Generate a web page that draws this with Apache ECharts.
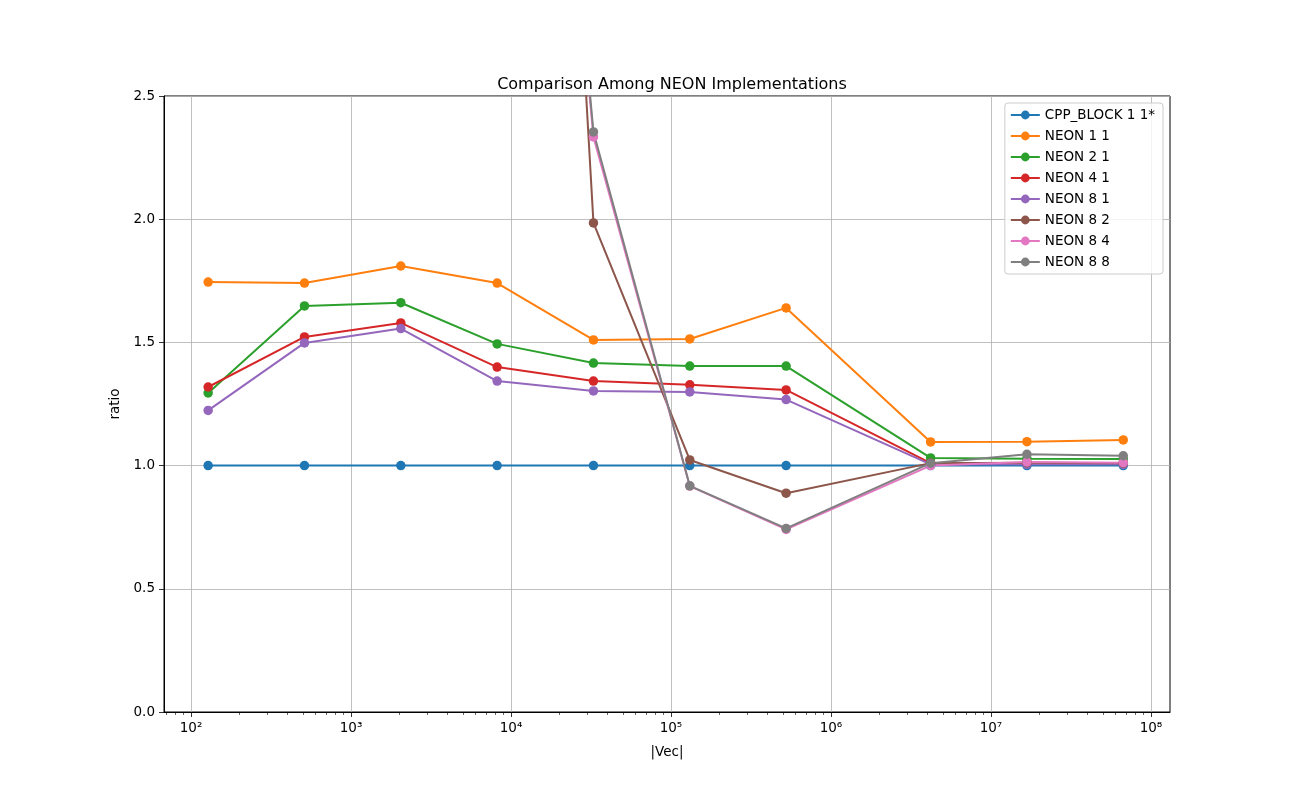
<!DOCTYPE html>
<html>
<head>
<meta charset="utf-8">
<script src="https://cdn.jsdelivr.net/npm/echarts@6/dist/echarts.min.js"></script>
<style>html,body{margin:0;padding:0;background:#fff}#c{width:1300px;height:800px}</style>
</head>
<body>
<div id="c"></div>
<script>
const sizes = [128, 512, 2048, 8192, 32768, 131072, 524288, 4194304, 16777216, 67108864];
const seriesNames = ['CPP_BLOCK 1 1*', 'NEON 1 1', 'NEON 2 1', 'NEON 4 1', 'NEON 8 1', 'NEON 8 2', 'NEON 8 4', 'NEON 8 8'];
const cppBlock11 = [1.000, 1.000, 1.000, 1.000, 1.000, 1.000, 1.000, 1.000, 1.000, 1.000];
const neon11 = [1.745, 1.741, 1.810, 1.741, 1.510, 1.514, 1.640, 1.096, 1.097, 1.104];
const neon21 = [1.295, 1.648, 1.661, 1.494, 1.416, 1.404, 1.404, 1.031, 1.028, 1.027];
const neon41 = [1.319, 1.522, 1.579, 1.400, 1.343, 1.328, 1.307, 1.010, 1.010, 1.010];
const neon81 = [1.224, 1.498, 1.556, 1.343, 1.303, 1.299, 1.268, 1.005, 1.005, 1.005];
const neon82 = [9.6, 9.2, 9.4, 8.8, 1.985, 1.023, 0.888, 1.010, 1.012, 1.010];
const neon84 = [6.7, 6.4, 6.6, 6.5, 2.334, 0.917, 0.741, 1.000, 1.015, 1.012];
const neon88 = [6.8, 6.5, 6.7, 6.6, 2.354, 0.918, 0.745, 1.010, 1.046, 1.040];
const xMajorTicks = [1e2, 1e3, 1e4, 1e5, 1e6, 1e7, 1e8];
const xTickLabels = ['10²', '10³', '10⁴', '10⁵', '10⁶', '10⁷', '10⁸'];

const allValues = [cppBlock11, neon11, neon21, neon41, neon81, neon82, neon84, neon88];
const colors = ['#1f77b4', '#ff7f0e', '#2ca02c', '#d62728', '#9467bd', '#8c564b', '#e377c2', '#7f7f7f'];

const minorTicks = [];
for (let e = 1; e <= 8; e++) {
  for (let m = 2; m <= 9; m++) {
    const v = m * Math.pow(10, e);
    if (v > 67.8 && v < 1.315e8) minorTicks.push(v);
  }
}

const FONT = 'DejaVu Sans';
const chart = echarts.init(document.getElementById('c'));
chart.setOption({
  animation: false,
  backgroundColor: '#fff',
  color: colors,
  title: {
    text: 'Comparison Among NEON Implementations',
    left: 667, top: 72, textAlign: 'center',
    textStyle: { fontFamily: FONT, fontSize: 16, fontWeight: 'normal', color: '#000' }
  },
  grid: { left: 164, right: 130, top: 96, bottom: 88, show: true, borderColor: '#000', borderWidth: 1, backgroundColor: 'transparent' },
  legend: {
    orient: 'vertical', right: 137, top: 103,
    backgroundColor: 'rgba(255,255,255,0.8)', borderColor: '#cccccc', borderWidth: 1, borderRadius: 3,
    padding: [5, 8, 5, 5],
    itemWidth: 29, itemHeight: 11, itemGap: 7,
    textStyle: { fontFamily: FONT, fontSize: 13.5, color: '#000' },
    data: seriesNames
  },
  xAxis: [{
    type: 'log', logBase: 10, min: 67.8, max: 1.315e8,
    name: '|Vec|', nameLocation: 'middle', nameGap: 33,
    nameTextStyle: { fontFamily: FONT, fontSize: 13.5, color: '#000' },
    axisLine: { show: true, lineStyle: { color: '#000', width: 1 } },
    axisTick: { show: true, customValues: xMajorTicks, length: 5, lineStyle: { color: '#000', width: 0.8 } },
    axisLabel: {
      customValues: xMajorTicks, margin: 9,
      fontFamily: FONT, fontSize: 13.5, color: '#000',
      formatter: function (v) {
        const i = xMajorTicks.findIndex(t => Math.abs(Math.log10(t) - Math.log10(v)) < 1e-6);
        return i >= 0 ? xTickLabels[i] : '';
      }
    },
    splitLine: { show: true, lineStyle: { color: '#b0b0b0', width: 0.8 } }
  }, {
    type: 'log', logBase: 10, min: 67.8, max: 1.315e8, gridIndex: 0, position: 'bottom',
    axisLine: { show: false },
    axisTick: { show: true, customValues: minorTicks, length: 3, lineStyle: { color: '#000', width: 0.6 } },
    axisLabel: { show: false },
    splitLine: { show: false }
  }],
  yAxis: {
    type: 'value', min: 0, max: 2.5, interval: 0.5,
    name: 'ratio', nameLocation: 'middle', nameGap: 37,
    nameTextStyle: { fontFamily: FONT, fontSize: 13.5, color: '#000' },
    axisLine: { show: true, lineStyle: { color: '#000', width: 1 } },
    axisTick: { show: true, length: 5, lineStyle: { color: '#000', width: 0.8 } },
    axisLabel: { margin: 9, fontFamily: FONT, fontSize: 13.5, color: '#000', formatter: v => v.toFixed(1) },
    splitLine: { show: true, lineStyle: { color: '#b0b0b0', width: 0.8 } }
  },
  series: seriesNames.map((name, k) => ({
    name: name, type: 'line', xAxisIndex: 0,
    data: sizes.map((s, i) => [s, allValues[k][i]]),
    symbol: 'circle', symbolSize: 9.5, showAllSymbol: true,
    lineStyle: { width: 2, color: colors[k] },
    itemStyle: { color: colors[k] },
    clip: true
  }))
});
</script>
</body>
</html>
